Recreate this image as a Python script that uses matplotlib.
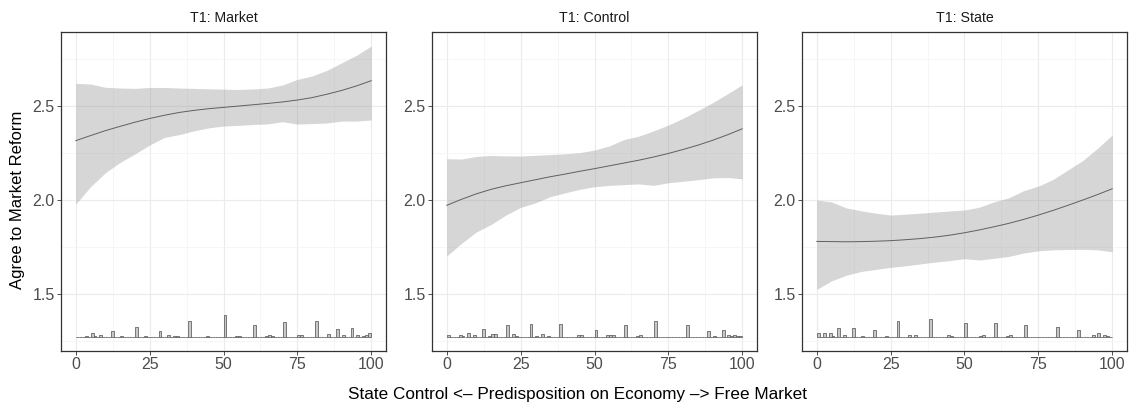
import numpy as np
import matplotlib
matplotlib.use('Agg')
import matplotlib.pyplot as plt

plt.rcParams['font.family'] = ['Liberation Sans', 'DejaVu Sans']

titles = ['T1: Market', 'T1: Control', 'T1: State']

# smoother curves, read on a 5-point grid
xs = np.arange(0, 101, 5)
fit_market = [2.316, 2.343, 2.369, 2.392, 2.414, 2.434, 2.451, 2.466, 2.477, 2.486, 2.493,
              2.500, 2.507, 2.514, 2.522, 2.532, 2.545, 2.563, 2.583, 2.607, 2.635]
hi_market = [2.621, 2.617, 2.600, 2.596, 2.594, 2.599, 2.599, 2.596, 2.594, 2.592, 2.590,
             2.588, 2.591, 2.596, 2.612, 2.642, 2.660, 2.690, 2.730, 2.770, 2.819]
lo_market = [1.979, 2.071, 2.145, 2.200, 2.245, 2.293, 2.333, 2.348, 2.368, 2.384, 2.394,
             2.397, 2.402, 2.405, 2.417, 2.404, 2.407, 2.410, 2.420, 2.420, 2.426]

fit_control = [1.972, 2.004, 2.033, 2.057, 2.076, 2.092, 2.108, 2.124, 2.138, 2.153, 2.167,
               2.182, 2.197, 2.212, 2.229, 2.248, 2.269, 2.292, 2.318, 2.347, 2.379]
hi_control = [2.220, 2.218, 2.232, 2.237, 2.235, 2.234, 2.238, 2.242, 2.246, 2.252, 2.266,
              2.288, 2.322, 2.340, 2.368, 2.399, 2.435, 2.476, 2.518, 2.565, 2.613]
lo_control = [1.702, 1.770, 1.830, 1.870, 1.920, 1.961, 1.985, 2.018, 2.038, 2.057, 2.071,
              2.078, 2.082, 2.086, 2.078, 2.092, 2.100, 2.108, 2.118, 2.120, 2.113]

fit_state = [1.780, 1.779, 1.778, 1.779, 1.781, 1.784, 1.789, 1.795, 1.803, 1.813, 1.826,
             1.841, 1.858, 1.876, 1.897, 1.920, 1.945, 1.972, 2.000, 2.029, 2.060]
hi_state = [2.000, 1.990, 1.958, 1.943, 1.930, 1.920, 1.925, 1.930, 1.936, 1.942, 1.947,
            1.962, 1.990, 2.012, 2.050, 2.074, 2.110, 2.160, 2.210, 2.275, 2.346]
lo_state = [1.525, 1.570, 1.600, 1.620, 1.631, 1.642, 1.650, 1.660, 1.670, 1.678, 1.688,
            1.681, 1.690, 1.700, 1.718, 1.730, 1.735, 1.737, 1.738, 1.735, 1.725]

# histogram of the predisposition scores (non-empty bins only)
bins_market = [0, 1, 3, 5, 6, 8, 10, 12, 15, 16, 20, 22, 23, 28, 30, 31, 33, 34, 38, 43, 44, 45,
               50, 54, 55, 60, 64, 65, 66, 70, 75, 76, 81, 85, 88, 90, 93, 95, 97, 98, 99]
n_market = [1, 1, 2, 7, 2, 4, 1, 10, 2, 1, 15, 1, 2, 10, 1, 3, 2, 2, 25, 1, 2, 1,
            34, 2, 2, 19, 2, 3, 2, 23, 3, 3, 24, 5, 12, 3, 14, 4, 2, 3, 6]
bins_control = [0, 1, 2, 4, 5, 7, 9, 12, 14, 15, 16, 20, 22, 23, 28, 30, 32, 34, 38, 44, 45,
                50, 54, 55, 56, 60, 64, 65, 70, 75, 76, 77, 81, 84, 85, 86, 88, 90, 91, 93,
                95, 96, 97, 98, 99]
n_control = [3, 1, 1, 3, 2, 7, 3, 12, 2, 5, 5, 18, 5, 2, 20, 2, 5, 2, 20, 4, 4,
             11, 3, 3, 4, 19, 2, 3, 25, 1, 1, 1, 19, 1, 1, 1, 10, 2, 1, 11,
             3, 2, 3, 2, 2]
bins_state = [0, 2, 4, 5, 7, 9, 12, 14, 15, 16, 19, 23, 27, 31, 33, 38, 44, 45, 50, 55, 56,
              60, 64, 65, 70, 75, 76, 77, 81, 85, 86, 88, 93, 95, 97, 98, 99]
n_state = [6, 6, 7, 2, 14, 4, 14, 1, 2, 1, 11, 2, 24, 4, 4, 28, 3, 2, 22, 2, 3,
           22, 2, 3, 19, 1, 1, 1, 15, 1, 1, 11, 4, 6, 3, 2, 1]

fits = [fit_market, fit_control, fit_state]
his = [hi_market, hi_control, hi_state]
los = [lo_market, lo_control, lo_state]
hbins = [bins_market, bins_control, bins_state]
hcounts = [n_market, n_control, n_state]

base = 1.27
scale = 0.00355

fig = plt.figure(figsize=(11.3, 4.07), dpi=100)
W, H = 1130.0, 407.0
lefts = [61, 432, 802]
pw = 325
top, bot = 32, 351

for i in range(3):
    ax = fig.add_axes([lefts[i] / W, 1 - bot / H, pw / W, (bot - top) / H])
    ax.set_xlim(-5, 105)
    ax.set_ylim(1.197, 2.894)
    ax.set_xticks([0, 25, 50, 75, 100])
    ax.set_xticks([12.5, 37.5, 62.5, 87.5], minor=True)
    ax.set_yticks([1.5, 2.0, 2.5])
    ax.set_yticklabels(['1.5', '2.0', '2.5'])
    ax.set_yticks([1.25, 1.75, 2.25, 2.75], minor=True)
    ax.grid(which='major', color='#EBEBEB', lw=0.8)
    ax.grid(which='minor', color='#F2F2F2', lw=0.45)
    ax.set_axisbelow(True)
    ax.tick_params(which='major', length=2.6, width=0.6, color='#333333',
                   labelsize=11.5, labelcolor='#4D4D4D', pad=2)
    ax.tick_params(which='minor', length=0)
    for s in ax.spines.values():
        s.set_color('#333333')
        s.set_linewidth(0.9)

    counts = np.zeros(100)
    counts[hbins[i]] = hcounts[i]
    ax.bar(np.arange(100), counts * scale, width=1.0, bottom=base, align='edge',
           color='#C8C8C8', edgecolor='#5A5A5A', lw=0.55, zorder=2)

    ax.fill_between(xs, los[i], his[i], color='#999999', alpha=0.4, lw=0, zorder=3)
    ax.plot(xs, fits[i], color='#5F5F5F', lw=0.7, zorder=4)
    ax.set_title(titles[i], fontsize=10.2, color='#1A1A1A', pad=7.5)

fig.text(18 / W, 1 - 200 / H, 'Agree to Market Reform', rotation=90,
         ha='center', va='center', fontsize=12)
fig.text(578 / W, 1 - 394 / H,
         'State Control <\u2013 Predisposition on Economy \u2013> Free Market',
         ha='center', va='center', fontsize=12.3)

fig.savefig('out.png', dpi=100)
